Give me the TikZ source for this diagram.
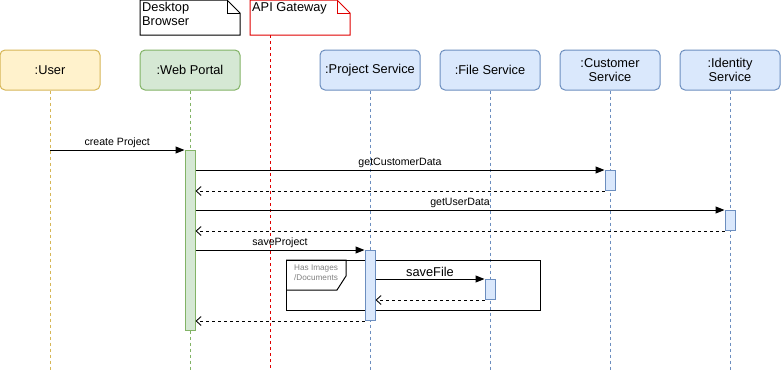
\documentclass[tikz,border=0pt]{standalone}
\usepackage{fontspec}
\setmainfont{Liberation Sans}
\usepackage{xcolor}
\definecolor{Useryellow}{HTML}{FFF2CC}
\definecolor{Userline}{HTML}{D6B656}
\definecolor{Portalgreen}{HTML}{D5E8D4}
\definecolor{Portalline}{HTML}{82B366}
\definecolor{Serviceblue}{HTML}{DAE8FC}
\definecolor{Serviceline}{HTML}{6C8EBF}
\definecolor{Gatewayred}{HTML}{E00000}
\usetikzlibrary{arrows.meta,positioning}
\tikzstyle{head} = [
    draw,
    rounded corners=5pt,
    minimum width=100pt,
    minimum height=40pt,
    align=center,
    line width=1pt,
    font=\fontsize{12.8}{14.5}\selectfont
]
\tikzstyle{lifeline} = [
    line width=0.9pt,
    dash pattern=on 3pt off 3pt
]
\tikzstyle{act} = [
    draw,
    anchor=north,
    minimum width=10pt,
    inner sep=0pt,
    line width=1pt
]
\tikzstyle{call} = [
    line width=1pt,
    -{Triangle[length=9pt,width=7pt]}
]
\tikzstyle{reply} = [
    line width=0.9pt,
    dash pattern=on 3pt off 3pt,
    -{Straight Barb[length=5pt,width=9pt]}
]
\tikzstyle{msglabel} = [
    above,
    inner sep=2pt,
    font=\fontsize{10.6}{12}\selectfont
]

\begin{document}
\begin{tikzpicture}[x=1pt, y=-1pt]
    \useasboundingbox (0,0) rectangle (781,373);
    % Notes
    \draw[line width=1pt, fill=white] (140,0) -- (227,0) -- (240,13) -- (240,35) -- (140,35) -- cycle;
    \draw[line width=1pt] (227,0) -- (227,13) -- (240,13);
    \node[anchor=north west, align=left, inner sep=0pt, font=\fontsize{12.8}{14}\selectfont] (browser) at (142,2) {Desktop\\Browser};
    \draw[line width=1pt, Gatewayred, fill=white] (250,0) -- (337,0) -- (350,13) -- (350,35) -- (250,35) -- cycle;
    \draw[line width=1pt, Gatewayred] (337,0) -- (337,13) -- (350,13);
    \node[anchor=north west, inner sep=0pt, font=\fontsize{12.8}{14}\selectfont] (gatewaytext) at (252,2) {API Gateway};
    \coordinate (gateway) at (270,35);
    % Lifeline heads
    \node[head, fill=Useryellow, draw=Userline] (user) at (50,70) {:User};
    \node[head, fill=Portalgreen, draw=Portalline] (portal) at (190,70) {:Web Portal};
    \node[head, fill=Serviceblue, draw=Serviceline] (project) at (370,70) {:Project Service};
    \node[head, fill=Serviceblue, draw=Serviceline] (file) at (490,70) {:File Service};
    \node[head, fill=Serviceblue, draw=Serviceline] (customer) at (610,70) {:Customer\\Service};
    \node[head, fill=Serviceblue, draw=Serviceline] (identity) at (730,70) {:Identity\\Service};
    % Lifelines
    \draw[lifeline, Userline] (user.south) -- (user.south |- 0,370);
    \draw[lifeline, Portalline] (portal.south) -- (portal.south |- 0,370);
    \draw[lifeline, Gatewayred] (gateway) -- (gateway |- 0,370);
    \draw[lifeline, Serviceline] (project.south) -- (project.south |- 0,370);
    \draw[lifeline, Serviceline] (file.south) -- (file.south |- 0,370);
    \draw[lifeline, Serviceline] (customer.south) -- (customer.south |- 0,370);
    \draw[lifeline, Serviceline] (identity.south) -- (identity.south |- 0,370);
    % Fragment
    \draw[line width=1pt] (286,260) rectangle (540,310);
    \draw[line width=1pt] (286,260) -- (346,260) -- (346,276) -- (337,290) -- (286,290);
    \node[anchor=north west, align=left, inner sep=0pt, text=gray, font=\fontsize{8.2}{10}\selectfont] (fragment) at (294,265) {Has Images\\/Documents};
    % Activations
    \node[act, fill=Portalgreen, draw=Portalline, minimum height=180pt] (portalact) at (190,150) {};
    \node[act, fill=Serviceblue, draw=Serviceline, minimum height=20pt] (customeract) at (610,170) {};
    \node[act, fill=Serviceblue, draw=Serviceline, minimum height=20pt] (identityact) at (730,210) {};
    \node[act, fill=Serviceblue, draw=Serviceline, minimum height=70pt] (projectact) at (370,250) {};
    \node[act, fill=Serviceblue, draw=Serviceline, minimum height=20pt] (fileact) at (490,279) {};
    % Messages
    \draw[call] (user.south |- portalact.north) -- (portalact.north west) node[msglabel, midway] {create Project};
    \draw[call] (portalact.east |- customeract.north) -- (customeract.north west) node[msglabel, midway] {getCustomerData};
    \draw[reply] (customeract.south west) -- (portalact.east |- customeract.south);
    \draw[call] (portalact.east |- identityact.north) -- (identityact.north west) node[msglabel, midway] {getUserData};
    \draw[reply] (identityact.south west) -- (portalact.east |- identityact.south);
    \draw[call] (portalact.east |- projectact.north) -- (projectact.north west) node[msglabel, midway] {saveProject};
    \draw[call] (projectact.east |- fileact.north) -- (fileact.north west) node[msglabel, midway, font=\fontsize{12.8}{14}\selectfont] {saveFile};
    \draw[reply] (fileact.south west) -- (projectact.east |- fileact.south);
    \draw[reply] (projectact.south west) -- (portalact.east |- projectact.south);
\end{tikzpicture}
\end{document}
